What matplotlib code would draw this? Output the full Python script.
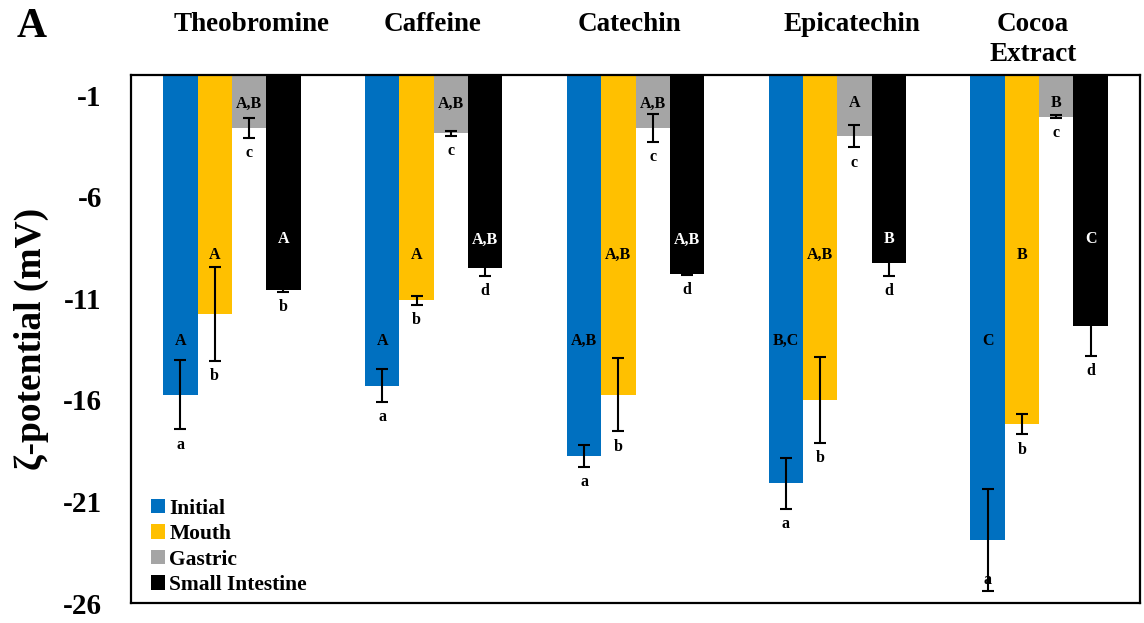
import numpy as np
import matplotlib
matplotlib.use('Agg')
import matplotlib.pyplot as plt

plt.rcParams['font.family'] = ['Liberation Serif', 'DejaVu Serif']
plt.rcParams['font.weight'] = 'bold'
plt.rcParams['axes.labelweight'] = 'bold'

# ζ-potential (mV) of each compound after each digestion stage
compounds = ['Theobromine', 'Caffeine', 'Catechin', 'Epicatechin', 'Cocoa\nExtract']
stages = ['Initial', 'Mouth', 'Gastric', 'Small Intestine']

initial = [-15.75, -15.3, -18.75, -20.1, -22.9]
initial_err = [1.7, 0.8, 0.55, 1.25, 2.5]
mouth = [-11.76, -11.1, -15.75, -16.0, -17.2]
mouth_err = [2.3, 0.22, 1.8, 2.1, 0.5]
gastric = [-2.6, -2.87, -2.6, -3.0, -2.05]
gastric_err = [0.5, 0.12, 0.7, 0.56, 0.08]
small_int = [-10.58, -9.5, -9.8, -9.25, -12.35]
small_int_err = [0.1, 0.4, 0.05, 0.65, 1.5]

# significance letters: upper case between compounds, lower case between stages
initial_upper = ['A', 'A', 'A,B', 'B,C', 'C']
mouth_upper = ['A', 'A', 'A,B', 'A,B', 'B']
gastric_upper = ['A,B', 'A,B', 'A,B', 'A', 'B']
small_int_upper = ['A', 'A,B', 'A,B', 'B', 'C']
initial_lower = ['a', 'a', 'a', 'a', 'a']
mouth_lower = ['b', 'b', 'b', 'b', 'b']
gastric_lower = ['c', 'c', 'c', 'c', 'c']
small_int_lower = ['b', 'd', 'd', 'd', 'd']

yticks = [-1, -6, -11, -16, -21, -26]

series = [
    (initial, initial_err, initial_upper, initial_lower),
    (mouth, mouth_err, mouth_upper, mouth_lower),
    (gastric, gastric_err, gastric_upper, gastric_lower),
    (small_int, small_int_err, small_int_upper, small_int_lower),
]
colors = ['#0070C0', '#FFC000', '#A5A5A5', '#000000']
upper_colors = ['black', 'black', 'black', 'white']
upper_y = [-13.1, -8.85, -1.4, -8.1]
offsets = [-0.255, -0.085, 0.085, 0.255]
width = 0.17

fig = plt.figure(figsize=(11.44, 6.23), dpi=100)
ax = fig.add_axes([131 / 1144, 1 - 603 / 623, 1009 / 1144, 528 / 623])

x = np.arange(len(compounds))

for (vals, errs, up, low), c, uc, uy, off, name in zip(
        series, colors, upper_colors, upper_y, offsets, stages):
    ax.bar(x + off, vals, width=width, color=c, label=name, zorder=2)
    ax.errorbar(x + off, vals, yerr=errs, fmt='none', ecolor='black',
                elinewidth=1.5, capsize=4.5, capthick=1.5, zorder=3)
    for i in range(len(x)):
        ax.text(x[i] + off, uy, up[i], ha='center', va='center',
                fontsize=11.5, color=uc, zorder=4)
        ly = max(vals[i] - errs[i] - 0.75, -24.85)
        ax.text(x[i] + off, ly, low[i], ha='center', va='center',
                fontsize=11.5, color='black', zorder=4)

ax.set_xlim(-0.5, len(compounds) - 0.5)
ax.set_ylim(-26, 0)
ax.set_xticks([])
ax.set_yticks(yticks)
ax.set_yticklabels([str(t) for t in yticks], fontsize=21)
ax.tick_params(axis='y', length=0, pad=21)
for s in ax.spines.values():
    s.set_linewidth(1.6)
    s.set_zorder(5)

ax.set_ylabel('ζ-potential (mV)', fontsize=27, fontweight='bold', labelpad=10)

ax.legend(loc='lower left', bbox_to_anchor=(20 / 1009, 8 / 528), frameon=False,
          fontsize=15.5, handlelength=0.65, handleheight=0.65, handletextpad=0.2,
          labelspacing=0.25, borderpad=0, borderaxespad=0)

# compound names above each group
title_x = [252, 433, 629, 852, 1033]
for name, tx in zip(compounds, title_x):
    fig.text(tx / 1144, 1 - 12 / 623, name, ha='center', va='top',
             fontsize=19.5, linespacing=1.25)

fig.text(17 / 1144, 1 - 27 / 623, 'A', ha='left', va='center', fontsize=30)

fig.savefig('out.png', dpi=100)
